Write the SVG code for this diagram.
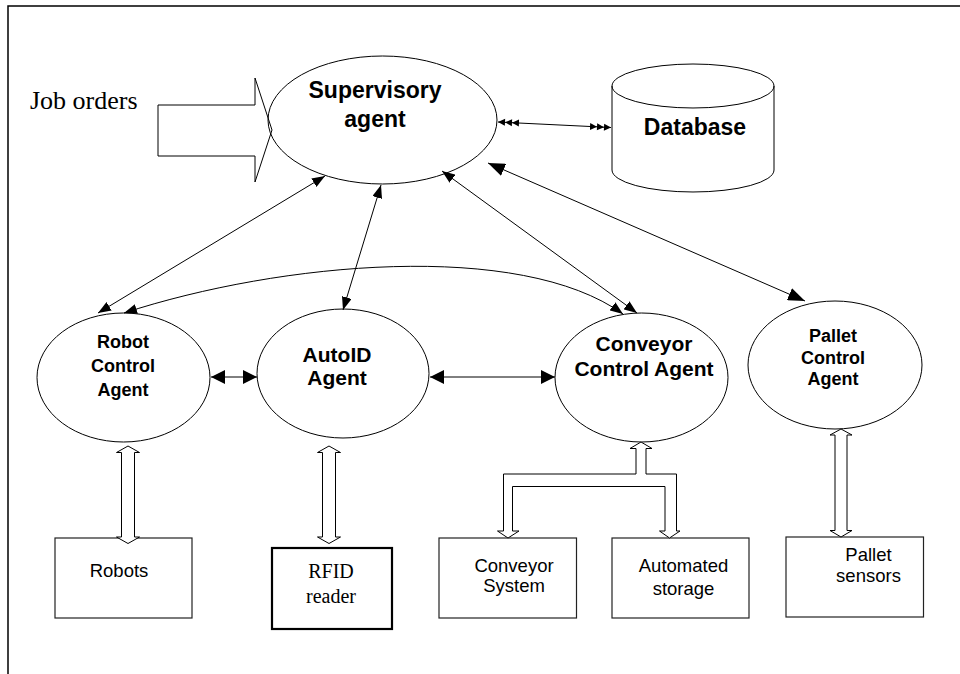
<svg xmlns="http://www.w3.org/2000/svg" width="960" height="674" viewBox="0 0 960 674">
<style>
.shape{fill:#fff;stroke:#000;stroke-width:1}
.box{fill:#fff;stroke:#222;stroke-width:1.2}
.lbl{font-family:"Liberation Sans",Arial,sans-serif;font-weight:bold;fill:#000;text-anchor:middle}
.txt{font-family:"Liberation Sans",Arial,sans-serif;fill:#000;text-anchor:middle;font-size:18.5px}
.ser{font-family:"Liberation Serif","Times New Roman",serif;fill:#000}
.ln{fill:none;stroke:#000;stroke-width:1}
.blk{fill:#fff;stroke:#000;stroke-width:1}
</style>
<defs>
<marker id="ah" viewBox="0 0 13 10" refX="13" refY="5" markerWidth="13" markerHeight="10" markerUnits="userSpaceOnUse" orient="auto-start-reverse"><path d="M0,0L13,5L0,10z" fill="#000"/></marker>
<marker id="ahm" viewBox="0 0 14 14" refX="14" refY="7" markerWidth="14" markerHeight="14" markerUnits="userSpaceOnUse" orient="auto-start-reverse"><path d="M0,0L14,7L0,14z" fill="#000"/></marker>
<marker id="ahl" viewBox="0 0 17 13" refX="17" refY="6.5" markerWidth="17" markerHeight="13" markerUnits="userSpaceOnUse" orient="auto-start-reverse"><path d="M0,0L17,6.5L0,13z" fill="#000"/></marker>
<marker id="ah3" viewBox="0 0 21 8" refX="21" refY="4" markerWidth="21" markerHeight="8" markerUnits="userSpaceOnUse" orient="auto-start-reverse"><path d="M0,0.5L7,4L0,7.5zM7,0.5L14,4L7,7.5zM14,0.5L21,4L14,7.5z" fill="#000"/></marker>
</defs>
<rect x="8" y="6" width="1000" height="1000" fill="#fff" stroke="#000" stroke-width="1.5"/>

<g id="job-orders">
<text class="ser" x="30" y="109" font-size="26">Job orders</text>
<polygon class="blk" points="158,105 255,105 255,78 272,130 255,182 255,156 158,156"/>
</g>

<g id="supervisory">
<ellipse cx="382.5" cy="120" rx="114.5" ry="64" fill="none" stroke="#000" stroke-width="1"/>
<text class="lbl" x="375" y="98" font-size="23">Supervisory</text>
<text class="lbl" x="375" y="127" font-size="23">agent</text>
</g>

<g id="database">
<path class="shape" d="M612,86 L612,170 A81,22 0 0 0 774,170 L774,86 A81,22 0 0 0 612,86 Z"/>
<path class="ln" d="M612,86 A81,22 0 0 0 774,86"/>
<text class="lbl" x="695" y="135" font-size="23">Database</text>
</g>

<g id="robot-agent">
<ellipse class="shape" cx="123.5" cy="377.5" rx="86.5" ry="64.5"/>
<text class="lbl" x="123" y="348" font-size="18">Robot</text>
<text class="lbl" x="123" y="372" font-size="18">Control</text>
<text class="lbl" x="123" y="396" font-size="18">Agent</text>
</g>

<g id="autoid-agent">
<ellipse class="shape" cx="343" cy="373.5" rx="86" ry="64.5"/>
<text class="lbl" x="337" y="362" font-size="21">AutoID</text>
<text class="lbl" x="337" y="385" font-size="21">Agent</text>
</g>

<g id="conveyor-agent">
<ellipse class="shape" cx="641.5" cy="377.5" rx="86.5" ry="64.5"/>
<text class="lbl" x="644" y="351" font-size="21">Conveyor</text>
<text class="lbl" x="644" y="376" font-size="21">Control Agent</text>
</g>

<g id="pallet-agent">
<ellipse class="shape" cx="835" cy="365" rx="87" ry="64"/>
<text class="lbl" x="833" y="342" font-size="18">Pallet</text>
<text class="lbl" x="833" y="364" font-size="18">Control</text>
<text class="lbl" x="833" y="385" font-size="18">Agent</text>
</g>

<g id="robots">
<rect class="box" x="55" y="538" width="137" height="80"/>
<text class="txt" x="119" y="577">Robots</text>
</g>

<g id="rfid-reader">
<rect x="272" y="548" width="120" height="81" fill="#fff" stroke="#000" stroke-width="2.2"/>
<text class="ser" x="331" y="578" font-size="20" text-anchor="middle">RFID</text>
<text class="ser" x="331" y="603" font-size="20" text-anchor="middle">reader</text>
</g>

<g id="conveyor-system">
<rect class="box" x="439" y="538" width="137.5" height="80"/>
<text class="txt" x="514" y="572">Conveyor</text>
<text class="txt" x="514" y="592">System</text>
</g>

<g id="automated-storage">
<rect class="box" x="612" y="538" width="137" height="80"/>
<text class="txt" x="683.5" y="572">Automated</text>
<text class="txt" x="683.5" y="595">storage</text>
</g>

<g id="pallet-sensors">
<rect class="box" x="786" y="537" width="137.5" height="80"/>
<text class="txt" x="868.5" y="561">Pallet</text>
<text class="txt" x="868.5" y="582">sensors</text>
</g>

<g id="connectors">
<path class="ln" d="M498,122 L611,127.5" marker-start="url(#ah3)" marker-end="url(#ah3)"/>
<path class="ln" d="M325,176 L98,313" marker-start="url(#ah)" marker-end="url(#ah)"/>
<path class="ln" d="M381,185 L343,310" marker-start="url(#ah)" marker-end="url(#ah)"/>
<path class="ln" d="M442,171 L637,313" marker-start="url(#ah)" marker-end="url(#ah)"/>
<path class="ln" d="M488,163 L805,301" stroke-width="2.2" marker-start="url(#ahl)" marker-end="url(#ahl)"/>
<path class="ln" d="M124,313 C280,262 520,240 623,314" marker-start="url(#ah)" marker-end="url(#ah)"/>
<path class="ln" d="M211,377 L257,377" marker-start="url(#ahm)" marker-end="url(#ahm)"/>
<path class="ln" d="M430,377 L555,377" marker-start="url(#ahm)" marker-end="url(#ahm)"/>
<polygon class="blk" points="128,446 139.5,452.5 134.5,452.5 134.5,537 139.5,537 128,543.5 116.5,537 121.5,537 121.5,452.5 116.5,452.5"/>
<polygon class="blk" points="329,446 340.5,452.5 335.5,452.5 335.5,537 340.5,537 329,543.5 317.5,537 322.5,537 322.5,452.5 317.5,452.5"/>
<polygon class="blk" points="841,429 852,435 847,435 847,530.5 852,530.5 841,537 830,530.5 835,530.5 835,435 830,435"/>
<polygon class="blk" points="641,442 652,448.5 646,448.5 646,474 676.5,474 676.5,531 680,531 669.5,538 659.5,531 665,531 665,486.5 512.5,486.5 512.5,531 519,531 508,538 497.5,531 503.5,531 503.5,474 636,474 636,448.5 630,448.5"/>
</g>
</svg>
